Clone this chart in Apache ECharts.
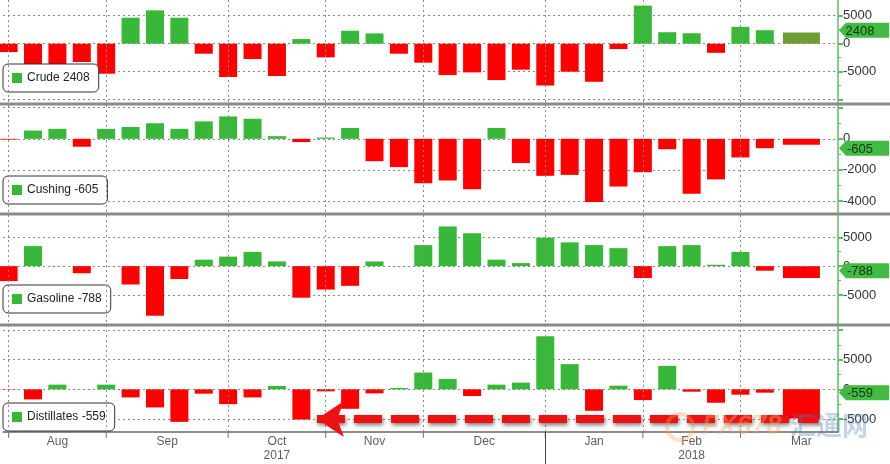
<!DOCTYPE html>
<html><head><meta charset="utf-8">
<script src="https://cdn.jsdelivr.net/npm/echarts@6/dist/echarts.min.js"></script>
<style>html,body{margin:0;padding:0;background:#fff}#c{width:890px;height:464px}</style>
</head><body><div id="c"></div>
<script>
// ---------- DATA ----------
const weekDates = ['2017-08-04','2017-08-11','2017-08-18','2017-08-25',
  '2017-09-01','2017-09-08','2017-09-15','2017-09-22','2017-09-29',
  '2017-10-06','2017-10-13','2017-10-20','2017-10-27',
  '2017-11-03','2017-11-10','2017-11-17','2017-11-24',
  '2017-12-01','2017-12-08','2017-12-15','2017-12-22','2017-12-29',
  '2018-01-05','2018-01-12','2018-01-19','2018-01-26',
  '2018-02-02','2018-02-09','2018-02-16','2018-02-23',
  '2018-03-02','2018-03-09'];
const crude = [-1500,-3700,-3700,-3270,-5360,4640,5950,4640,-1790,-5950,-2740,-5770,830,-2440,2320,1840,-1790,-3390,-5600,-5120,-6500,-4640,-7470,-5000,-6800,-960,6800,2050,1870,-1630,3010,2408];
const cushing = [-50,530,640,-510,640,760,1000,640,1120,1440,1290,170,-210,80,700,-1440,-1820,-2860,-2680,-3240,700,-1560,-2380,-2320,-4060,-3070,-2150,-670,-3540,-2610,-1200,-605];
const gasoline = [-2590,3470,50,-1230,30,-3180,-8590,-2230,1120,1650,2470,820,-5470,-4060,-3410,820,30,3650,6880,5700,1120,530,4940,4120,3650,3120,-2060,3470,3650,240,2470,-788];
const distillates = [-50,-1700,790,30,790,-1360,-3050,-5480,-730,-2490,-1360,565,-5090,-340,-3280,-680,230,2830,1750,-1130,790,1130,8930,4240,-3620,620,-1810,3960,-400,-2260,-900,-559];
const estimates = [2000,-380,-2060,-4900];          // wide right-most bars
const estimateWeek = 32.5;
const panelNames = ['Crude','Cushing','Gasoline','Distillates'];
const monthNames = ['Aug','Sep','Oct','Nov','Dec','Jan','Feb','Mar'];
const monthStarts = [0,4,9,13,17,22,26,30,35];     // week index of first week in month
const yearLabels = ['2017','2018'];
const yearUnderMonth = ['Oct','Feb'];
const yearBreakMonth = 'Jan';
const arrowFrom = 12.64, arrowTo = 33.2, arrowLevel = -5000;

// ---------- STYLE / LAYOUT ----------
const GREEN = '#38b838', RED = '#ff0000', OLIVE = '#6e9d34', AXISG = '#5cc05c';
const FONT = 'Liberation Sans, Arial, sans-serif';
const X_MIN = -0.23, X_MAX = 34, GL = 3, GR = 52;
const panelSeries = [crude, cushing, gasoline, distillates];
const layout = [
  {min:-10000,max:5000,interval:5000,top:15.7,height:84,legendTop:64,hideMin:true,hideMax:false,est:OLIVE},
  {min:-4000,max:2000,interval:2000,top:107.7,height:93.3,legendTop:176,hideMin:false,hideMax:true,est:RED},
  {min:-5000,max:5000,interval:5000,top:237.3,height:57.7,legendTop:285,hideMin:false,hideMax:false,est:RED},
  {min:-5000,max:10000,interval:5000,top:330,height:89,legendTop:403,hideMin:false,hideMax:true,est:RED}
];

const xVal = i => i; // week index along the axis
const grids = [{left:GL,right:GR,top:0,height:432}];
const xAxes = [{gridIndex:0,type:'value',min:X_MIN,max:X_MAX,show:false}];
const yAxes = [{gridIndex:0,type:'value',min:0,max:1,position:'right',
  axisLine:{show:true,onZero:false,lineStyle:{color:AXISG,width:1.5}},axisTick:{show:false},axisLabel:{show:false},splitLine:{show:false}}];
const series = [{
  type:'scatter',xAxisIndex:0,yAxisIndex:0,data:[[X_MIN,-1]],symbolSize:0,silent:true,
  markLine:{silent:true,symbol:'none',label:{show:false},animation:false,
    lineStyle:{color:'#8a8a8a',type:[2,3],width:1},
    data:monthStarts.filter(m=>m<=X_MAX).map(m=>({xAxis:m}))}
}];
const legends = [];

panelNames.forEach((name,i)=>{
  const L = layout[i], vals = panelSeries[i], last = vals[vals.length-1];
  grids.push({left:GL,right:GR,top:L.top,height:L.height});
  xAxes.push({gridIndex:i+1,type:'value',min:X_MIN,max:X_MAX,show:false});
  yAxes.push({gridIndex:i+1,type:'value',min:L.min,max:L.max,interval:L.interval,position:'right',
    axisLine:{show:false,onZero:false},
    axisTick:{show:true,length:5,lineStyle:{color:AXISG,width:2}},
    minorTick:{show:true,splitNumber:2,length:3,lineStyle:{color:AXISG,width:1}},
    axisLabel:{show:true,margin:5,color:'#333',fontSize:13,fontFamily:FONT,
      showMinLabel:!L.hideMin,showMaxLabel:!L.hideMax,formatter:v=>String(v)},
    splitLine:{show:true,lineStyle:{color:'#8a8a8a',type:[2,3],width:1}}});
  series.push({
    name:name,type:'bar',xAxisIndex:i+1,yAxisIndex:i+1,barWidth:18,clip:false,
    data:vals.map((v,k)=>[xVal(k),v]),
    itemStyle:{color:p=>p.value[1]>=0?GREEN:RED},
    markPoint:{silent:true,animation:false,
      symbol:'path://M0,8 L7,0 L50,0 L50,16 L7,16 Z',symbolSize:[50,15],symbolKeepAspect:false,
      symbolOffset:[26,0],itemStyle:{color:'#42bb42'},
      label:{show:true,position:'inside',offset:[-4,1],color:'#143214',fontSize:13,fontFamily:FONT,formatter:p=>String(p.value)},
      data:[{coord:[X_MAX,last],value:last}]},
    markLine: i===3 ? {silent:true,animation:false,symbol:['arrow','none'],symbolSize:[27,27],
      label:{show:false},
      lineStyle:{color:'#ee1111',width:8,type:[28,9],shadowBlur:4,shadowColor:'rgba(0,0,0,0.55)',shadowOffsetX:1,shadowOffsetY:2},
      data:[[{coord:[arrowFrom,arrowLevel]},{coord:[arrowTo,arrowLevel]}]]} : undefined
  });
  legends.push({left:GL,top:L.legendTop,selectedMode:false,icon:'rect',itemWidth:10,itemHeight:10,
    backgroundColor:'#fff',borderColor:'#333',borderWidth:1,borderRadius:5,padding:[8,9],
    data:[{name:name,itemStyle:{color:GREEN}}],
    formatter:n=>n+' '+last,
    textStyle:{fontSize:12,color:'#222',fontFamily:FONT}});
});
// estimate (wide) bars on their own axes
panelNames.forEach((name,i)=>{
  xAxes.push({gridIndex:i+1,type:'value',min:X_MIN,max:X_MAX,show:false});
  series.push({name:name+' est',type:'bar',xAxisIndex:5+i,yAxisIndex:i+1,barWidth:37,clip:false,
    data:[[estimateWeek,estimates[i]]],itemStyle:{color:layout[i].est}});
});
// bottom label strip
grids.push({left:GL,right:GR,top:432,height:32});
xAxes.push({gridIndex:5,type:'value',min:X_MIN,max:X_MAX,position:'top',
  axisLine:{show:true,onZero:false,lineStyle:{color:'#666',width:1.5}},axisTick:{show:false},axisLabel:{show:false},splitLine:{show:false}});
yAxes.push({gridIndex:5,type:'value',min:0,max:1,show:false});
const monthMid = monthNames.map((m,i)=>(monthStarts[i]+monthStarts[i+1])/2);
series.push({type:'scatter',xAxisIndex:9,yAxisIndex:5,symbolSize:1,itemStyle:{color:'rgba(0,0,0,0)'},silent:true,
  data:monthNames.map((m,i)=>({name:m,value:[monthMid[i],0.69]})),
  label:{show:true,position:'inside',formatter:'{b}',color:'#333',fontSize:12,fontFamily:FONT}});
series.push({type:'scatter',xAxisIndex:9,yAxisIndex:5,symbolSize:1,itemStyle:{color:'rgba(0,0,0,0)'},silent:true,
  data:yearLabels.map((y,i)=>({name:y,value:[monthMid[monthNames.indexOf(yearUnderMonth[i])],0.25]})),
  label:{show:true,position:'inside',formatter:'{b}',color:'#333',fontSize:12,fontFamily:FONT}});
series.push({type:'scatter',xAxisIndex:9,yAxisIndex:5,symbol:'rect',symbolSize:[1,5],itemStyle:{color:'#444'},silent:true,
  data:monthStarts.filter(m=>m<=X_MAX).map(m=>[m,0.9]),
  markLine:{silent:true,symbol:'none',label:{show:false},animation:false,lineStyle:{color:'#444',type:'solid',width:1},
    data:[{xAxis:monthStarts[monthNames.indexOf(yearBreakMonth)]}]}});

const sep = y => ({type:'rect',shape:{x:0,y:y,width:890,height:3},style:{fill:'#8a8a8a'},z:100,silent:true});
const option = {
  animation:false,
  textStyle:{fontFamily:FONT},
  grid:grids,xAxis:xAxes,yAxis:yAxes,legend:legends,series:series,
  graphic:[sep(102.5),sep(212.5),sep(323.5),
    {type:'circle',shape:{cx:680,cy:427,r:13},style:{fill:'none',stroke:'rgba(240,160,90,0.35)',lineWidth:4},z:90,silent:true},
    {type:'text',x:702,y:413,style:{text:'FX678',font:'italic bold 27px '+FONT,fill:'rgba(245,170,100,0.40)'},z:90,silent:true},
    {type:'text',x:790,y:412,style:{text:'汇通网',font:'bold 26px "Noto Sans CJK SC"',fill:'rgba(80,120,180,0.33)'},z:90,silent:true}]
};
const chart = echarts.init(document.getElementById('c'),null,{renderer:'canvas'});
chart.setOption(option);
</script></body></html>
